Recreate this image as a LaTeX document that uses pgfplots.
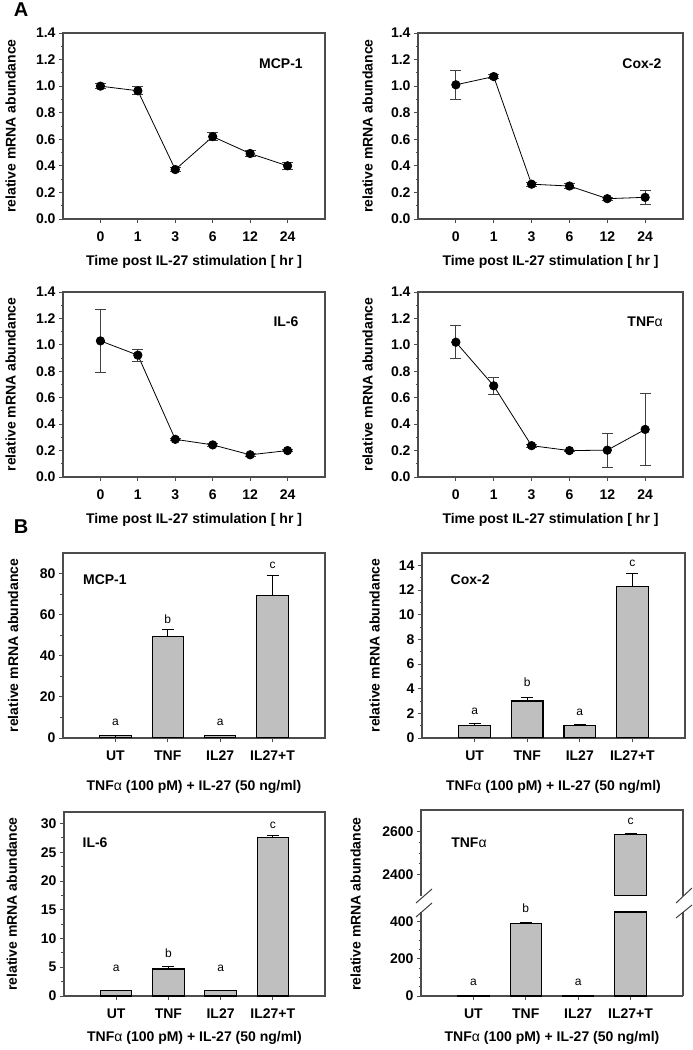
\documentclass[border=0pt]{standalone}
\usepackage{pgfplots}
\pgfplotsset{compat=1.18}
\usepackage{fontspec}
\setmainfont{Liberation Sans}

\newcommand{\alp}{{\mdseries α}}
\newcommand{\lab}{\fontsize{14}{16}\selectfont\bfseries}

\pgfplotsset{
  base/.style={
    scale only axis, anchor=south west,
    /pgf/number format/assume math mode=true,
    /pgf/number format/1000 sep={},
    scaled y ticks=false,
    tick label style={font=\lab},
    label style={font=\lab},
    axis line style={black!70, line width=1.1pt},
    tick style={black!70, line width=0.9pt},
    tick align=outside, tick pos=left,
    major tick length=4pt, minor tick length=2.5pt,
    ylabel={relative mRNA abundance},
    ylabel style={at={(axis description cs:-0.19,0.5)}, anchor=center},
    xticklabel style={yshift=-5pt},
  },
  lineA/.style={
    xmin=-1, xmax=6, ymin=0, ymax=1.4,
    xtick={0,1,2,3,4,5}, xticklabels={0,1,3,6,12,24},
    ytick={0,0.2,0.4,0.6,0.8,1.0,1.2,1.4}, minor y tick num=1,
    yticklabel style={/pgf/number format/fixed, /pgf/number format/fixed zerofill,
      /pgf/number format/precision=1},
    xlabel={Time post IL-27 stimulation [ hr ]},
    xlabel style={at={(axis description cs:0.5,-0.232)}, anchor=center},
  },
  barB/.style={
    xmin=-1, xmax=4,
    xtick={0,1,2,3}, xticklabels={UT,TNF,IL27,IL27+T},
    xlabel={TNF\alp\ (100 pM) + IL-27 (50 ng/ml)},
  },
  lineplot/.style={
    black, line width=0.8pt, mark=*, mark size=4.2pt,
    error bars/.cd, y dir=both, y explicit,
    error bar style={line width=0.8pt, black!75},
    error mark options={rotate=90, mark size=5.5pt, line width=0.8pt, black!75},
  },
  barbare/.style={
    ybar, bar width=0.6, fill=gray!50, draw=black, line width=1.1pt,
  },
  barplot/.style={
    barbare,
    error bars/.cd, y dir=plus, y explicit,
    error bar style={line width=0.9pt, black},
    error mark options={rotate=90, mark size=6pt, line width=0.9pt, black},
  },
}
\tikzset{
  pname/.style={font=\lab, anchor=center},
  sig/.style={font=\fontsize{12}{14}\selectfont\mdseries, anchor=center},
}

\begin{document}
\begin{tikzpicture}[x=1pt, y=1pt]
\path[use as bounding box] (0,0) rectangle (693,1050);

\node[font=\fontsize{20}{22}\selectfont\bfseries] at (21,1040) {A};
\node[font=\fontsize{20}{22}\selectfont\bfseries] at (21,523) {B};

%% A: MCP-1
\begin{axis}[base, lineA, at={(63pt,831pt)}, width=262pt, height=186pt,
  ylabel style={at={(axis description cs:-0.2,0.5)}}]
\addplot[lineplot] coordinates {
  (0,1.00) +- (0,0.02)
  (1,0.965) +- (0,0.03)
  (2,0.372) +- (0,0.015)
  (3,0.62) +- (0,0.03)
  (4,0.493) +- (0,0.02)
  (5,0.40) +- (0,0.025)
};
\node[pname] at (axis description cs:0.832,0.833) {MCP-1};
\end{axis}

%% A: Cox-2
\begin{axis}[base, lineA, at={(418pt,831pt)}, width=265pt, height=186pt]
\addplot[lineplot] coordinates {
  (0,1.01) +- (0,0.11)
  (1,1.072) +- (0,0.015)
  (2,0.262) +- (0,0.015)
  (3,0.248) +- (0,0.02)
  (4,0.153) +- (0,0.01)
  (5,0.163) +- (0,0.053)
};
\node[pname] at (axis description cs:0.845,0.833) {Cox-2};
\end{axis}

%% A: IL-6
\begin{axis}[base, lineA, at={(63pt,573pt)}, width=262pt, height=185pt,
  ylabel style={at={(axis description cs:-0.2,0.5)}}]
\addplot[lineplot] coordinates {
  (0,1.03) +- (0,0.235)
  (1,0.922) +- (0,0.045)
  (2,0.285) +- (0,0.01)
  (3,0.243) +- (0,0.015)
  (4,0.168) +- (0,0.01)
  (5,0.20) +- (0,0.01)
};
\node[pname] at (axis description cs:0.851,0.838) {IL-6};
\end{axis}

%% A: TNFa
\begin{axis}[base, lineA, at={(418pt,573pt)}, width=265pt, height=185pt]
\addplot[lineplot] coordinates {
  (0,1.02) +- (0,0.125)
  (1,0.69) +- (0,0.066)
  (2,0.237) +- (0,0.01)
  (3,0.20) +- (0,0.005)
  (4,0.203) +- (0,0.13)
  (5,0.36) +- (0,0.27)
};
\node[pname] at (axis description cs:0.857,0.838) {TNF\alp};
\end{axis}

%% B: MCP-1
\begin{axis}[base, barB, at={(63pt,312pt)}, width=262pt, height=185pt,
  ymin=0, ymax=90, ytick={0,20,40,60,80}, minor y tick num=1,
  xlabel style={at={(axis description cs:0.5,-0.262)}, anchor=center}]
\addplot[barplot] coordinates {
  (0,1.0) +- (0,0.2)
  (1,49.5) +- (0,3.1)
  (2,1.1) +- (0,0.3)
  (3,69.5) +- (0,9.8)
};
\node[sig] at (axis cs:0,7.8) {a};
\node[sig] at (axis cs:1,57.8) {b};
\node[sig] at (axis cs:2,7.8) {a};
\node[sig] at (axis cs:3,84) {c};
\node[pname] at (axis description cs:0.16,0.854) {MCP-1};
\end{axis}

%% B: Cox-2
\begin{axis}[base, barB, at={(422pt,312pt)}, width=263pt, height=185pt,
  ymin=0, ymax=15, ytick={0,2,4,6,8,10,12,14}, minor y tick num=1,
  ylabel style={at={(axis description cs:-0.18,0.5)}},
  xlabel style={at={(axis description cs:0.5,-0.262)}, anchor=center}]
\addplot[barplot] coordinates {
  (0,1.0) +- (0,0.15)
  (1,3.0) +- (0,0.25)
  (2,1.0) +- (0,0.1)
  (3,12.3) +- (0,1.05)
};
\node[sig] at (axis cs:0,2.15) {a};
\node[sig] at (axis cs:1,4.5) {b};
\node[sig] at (axis cs:2,2.1) {a};
\node[sig] at (axis cs:3,14.2) {c};
\node[pname] at (axis description cs:0.183,0.854) {Cox-2};
\end{axis}

%% B: IL-6
\begin{axis}[base, barB, at={(64pt,54pt)}, width=261pt, height=184pt,
  ymin=0, ymax=32, ytick={0,5,10,15,20,25,30}, minor y tick num=1,
  ylabel style={at={(axis description cs:-0.2,0.5)}},
  xlabel style={at={(axis description cs:0.5,-0.228)}, anchor=center}]
\addplot[barplot] coordinates {
  (1,4.7) +- (0,0.5)
  (3,27.5) +- (0,0.35)
};
\addplot[barbare] coordinates {(0,1.0) (2,1.0)};
\node[sig] at (axis cs:0,4.85) {a};
\node[sig] at (axis cs:1,7.45) {b};
\node[sig] at (axis cs:2,4.8) {a};
\node[sig] at (axis cs:3,29.6) {c};
\node[pname] at (axis description cs:0.119,0.832) {IL-6};
\end{axis}

%% B: TNFa, upper part of broken axis (no bottom spine)
\begin{axis}[base, barB, at={(421pt,154pt)}, width=262pt, height=86pt,
  hide x axis, axis y line*=box, ytick pos=left,
  xlabel={}, ylabel={},
  ymin=2300, ymax=2700, ytick={2400,2600}, minor y tick num=3]
\addplot[barplot] coordinates {(3,2585) +- (0,5)};
\node[sig] at (axis cs:3,2648) {c};
\node[pname] at (axis description cs:0.183,0.616) {TNF\alp};
\end{axis}
\draw[black!70, line width=1.1pt] (420.45,240) -- (683.55,240);

%% B: TNFa, lower part of broken axis (no top spine)
\begin{axis}[base, barB, at={(421pt,54pt)}, width=262pt, height=84pt,
  axis x line*=bottom, axis y line*=box, ytick pos=left, clip=false,
  restrict y to domain*=0:450,
  ymin=0, ymax=450, ytick={0,200,400}, minor y tick num=3,
  ylabel style={at={(axis description cs:-0.25,1.095)}},
  xlabel style={at={(axis description cs:0.5,-0.5)}, anchor=center}]
\addplot[barplot] coordinates {(1,390) +- (0,5)};
\addplot[barbare] coordinates {(0,1.0) (2,1.0) (3,2585)};
\node[sig] at (axis cs:0,75) {a};
\node[sig] at (axis cs:1,469) {b};
\node[sig] at (axis cs:2,75) {a};
\end{axis}

%% break marks
\begin{scope}[black!75, line width=1pt]
\draw (416,147) -- (432,161);
\draw (416,133) -- (432,147);
\draw (676,147) -- (692,162);
\draw (676,132) -- (692,145);
\end{scope}
\end{tikzpicture}
\end{document}
